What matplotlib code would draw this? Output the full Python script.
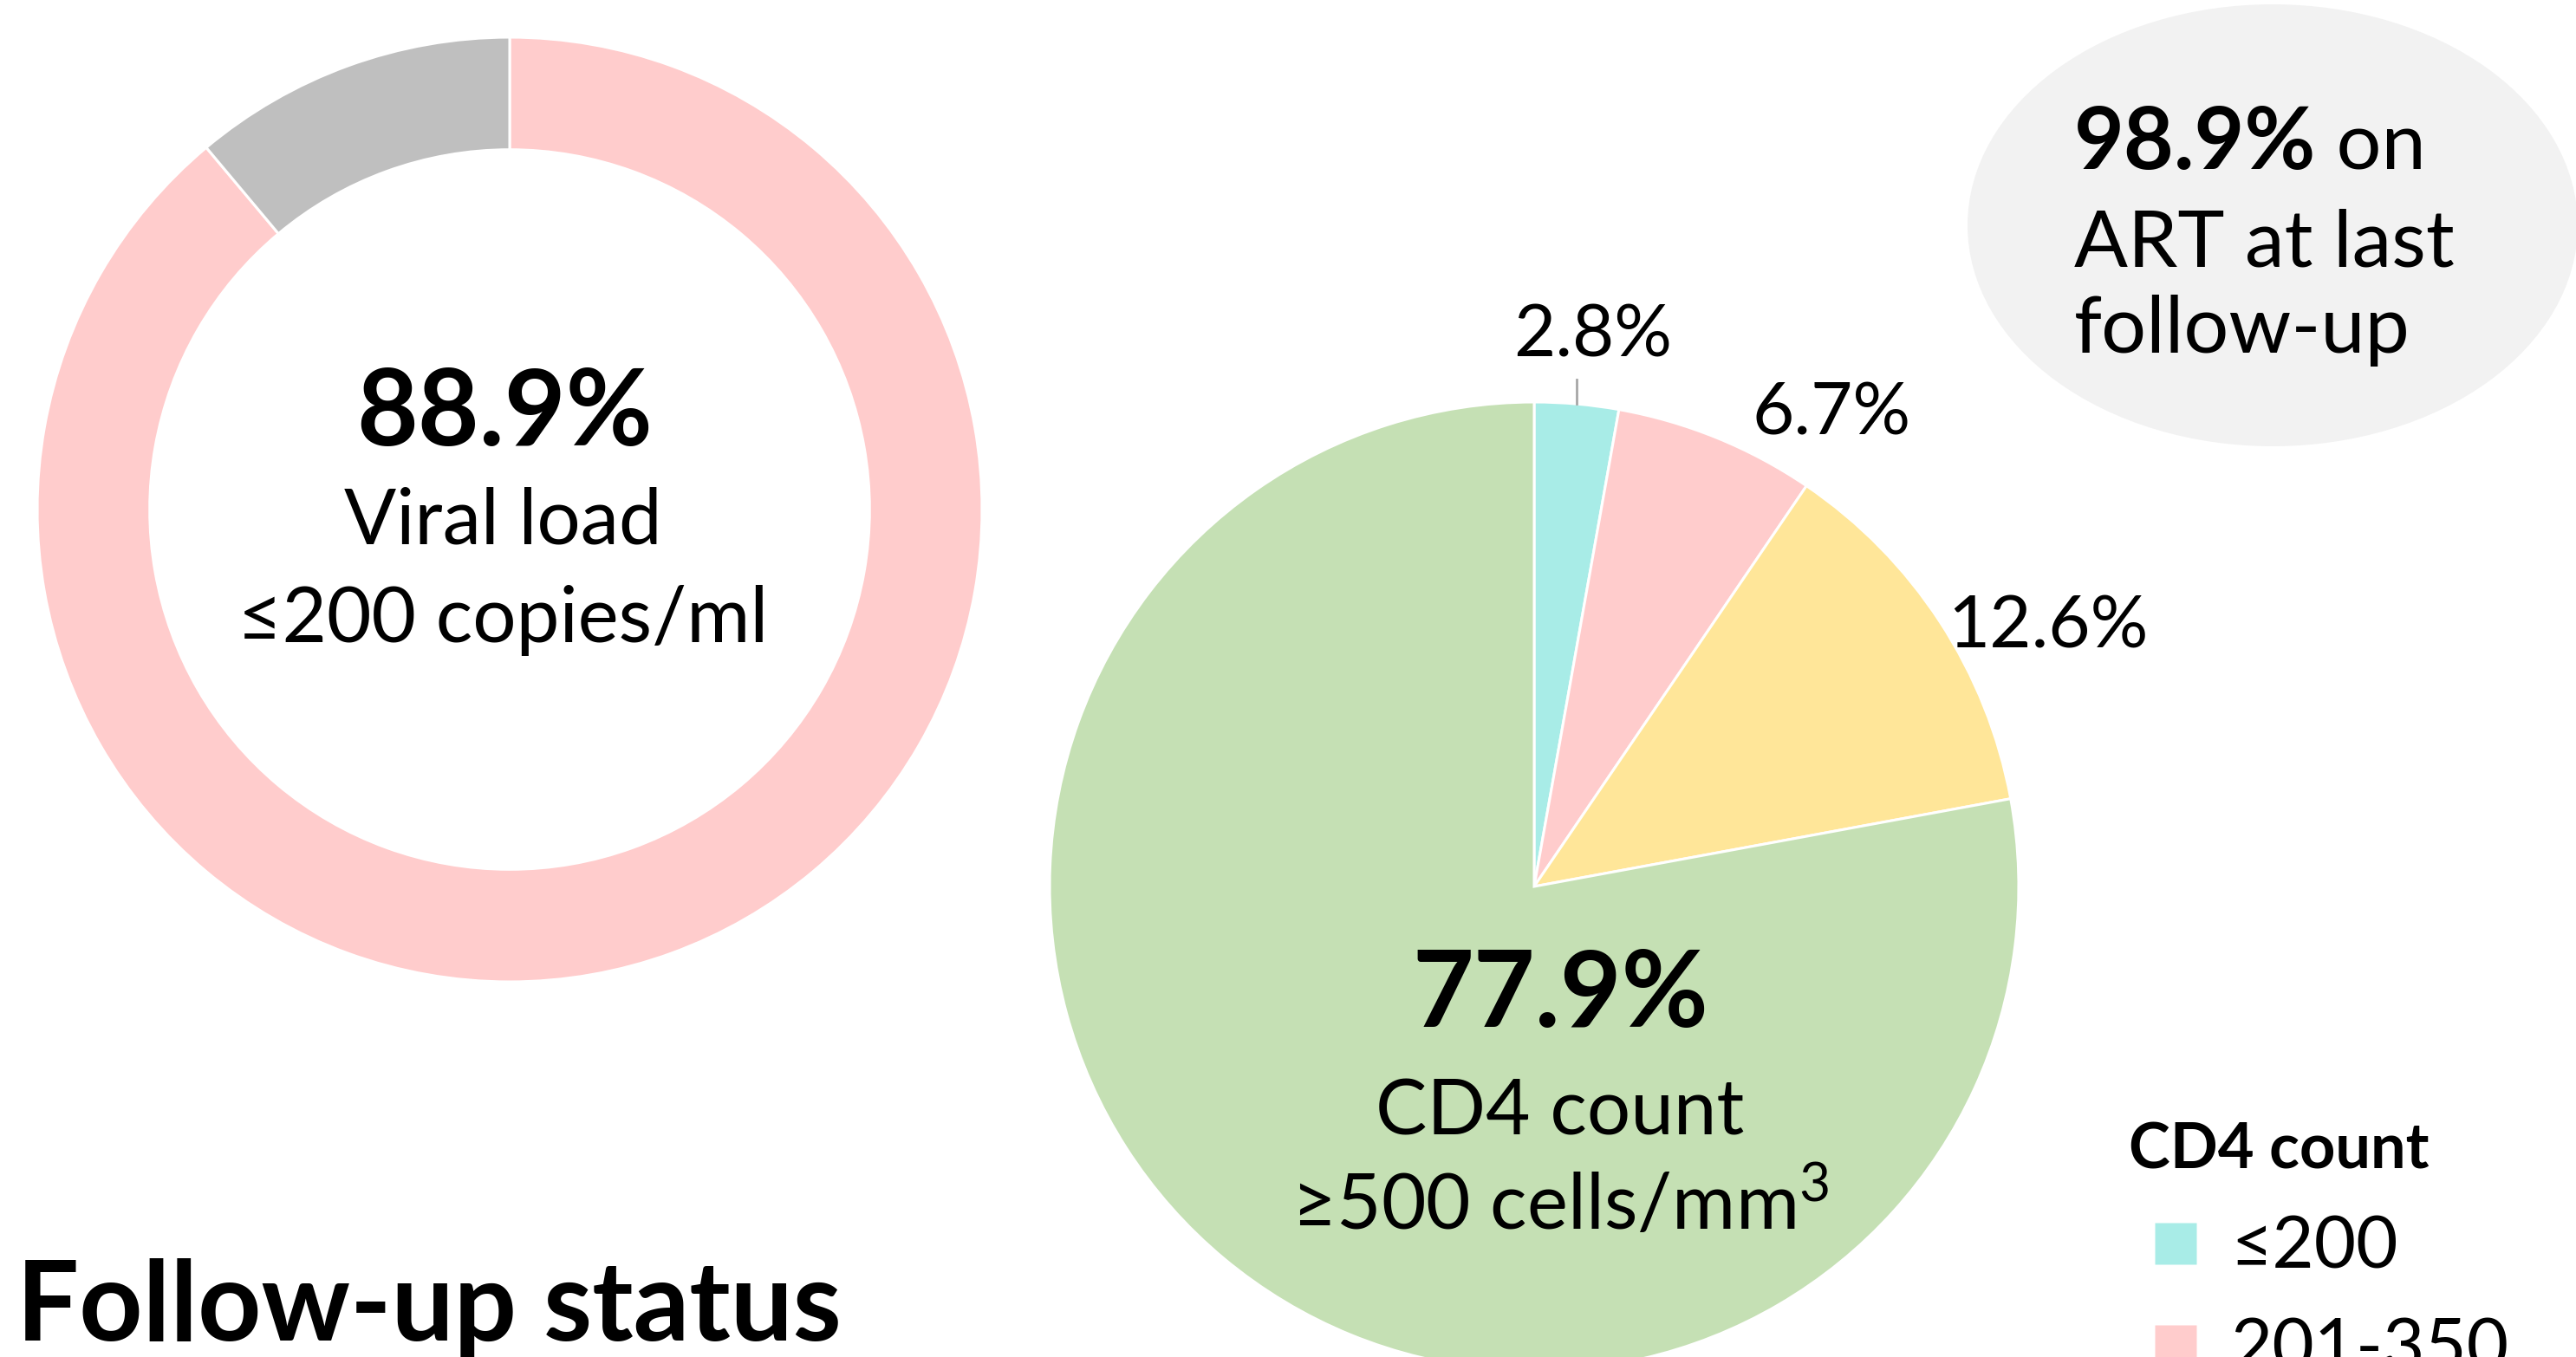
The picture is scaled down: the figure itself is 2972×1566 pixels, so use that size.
import matplotlib
matplotlib.use("Agg")
import matplotlib.pyplot as plt
from matplotlib.patches import Ellipse
from matplotlib.lines import Line2D
import numpy as np

plt.rcParams['font.family'] = ['Lato', 'DejaVu Sans']
plt.rcParams['mathtext.fontset'] = 'custom'
plt.rcParams['mathtext.rm'] = 'Lato'
plt.rcParams['mathtext.it'] = 'Lato:italic'
plt.rcParams['mathtext.bf'] = 'Lato:bold'

# ---- data ----
vl_labels = ["≤200 copies/ml", "Other"]
vl_values = [88.9, 11.1]
vl_colors = ["#FFCCCC", "#BFBFBF"]

cd4_labels = ["≤200", "201-350", "351-499", "≥500"]
cd4_values = [2.8, 6.7, 12.6, 77.9]
cd4_colors = ["#A8ECE7", "#FFCCCC", "#FFE699", "#C5E0B4"]

art_pct = 98.9

W, H = 2972, 1566
DPI = 200
fig = plt.figure(figsize=(W / DPI, H / DPI), dpi=DPI)

def frac(left, top, size):
    # pixel box (top-left origin) -> figure fraction
    return [left / W, (H - top - size) / H, size / W, size / H]

# ---- donut (viral load) ----
cx1, cy1, R1 = 588, 588, 545
ax1 = fig.add_axes(frac(cx1 - R1, cy1 - R1, 2 * R1))
ax1.pie(vl_values, colors=vl_colors, startangle=90, counterclock=False,
        radius=1.0, wedgeprops=dict(width=0.238, edgecolor="white", linewidth=1.1))
ax1.set_xlim(-1, 1); ax1.set_ylim(-1, 1)
ax1.set_aspect("equal"); ax1.axis("off")

# ---- pie (CD4 count) ----
cx2, cy2, R2 = 1770, 1023, 559
ax2 = fig.add_axes(frac(cx2 - R2, cy2 - R2, 2 * R2))
wedges, _ = ax2.pie(cd4_values, colors=cd4_colors, startangle=90, counterclock=False,
                    radius=1.0, wedgeprops=dict(edgecolor="white", linewidth=1.1))
ax2.set_xlim(-1, 1); ax2.set_ylim(-1, 1)
ax2.set_aspect("equal"); ax2.axis("off")

# leader line for smallest slice
mid = np.deg2rad(90 - cd4_values[0] * 3.6 / 2)
ax2.plot([np.cos(mid), np.cos(mid)], [np.sin(mid), np.sin(mid) + 0.05],
         color="#A6A6A6", lw=1.0, clip_on=False)

# overlay axes in pixel coordinates
ax0 = fig.add_axes([0, 0, 1, 1])
ax0.set_xlim(0, W); ax0.set_ylim(H, 0)
ax0.axis("off")
ax0.set_zorder(5)
ax0.patch.set_alpha(0)

# donut centre text
ax0.text(582, 479, f"{vl_values[0]}%", ha="center", va="center", fontsize=44, fontweight="bold")
ax0.text(580, 603, "Viral load", ha="center", va="center", fontsize=32)
ax0.text(580, 716, "≤200 copies/ml", ha="center", va="center", fontsize=32)

# pie labels
ax0.text(1838, 388, f"{cd4_values[0]}%", ha="center", va="center", fontsize=30)
ax0.text(2113, 479, f"{cd4_values[1]}%", ha="center", va="center", fontsize=30)
ax0.text(2363, 724, f"{cd4_values[2]}%", ha="center", va="center", fontsize=30)

ax0.text(1800, 1150, f"{cd4_values[3]}%", ha="center", va="center", fontsize=44, fontweight="bold")
ax0.text(1800, 1285, "CD4 count", ha="center", va="center", fontsize=32)
ax0.text(1800, 1392, "≥500 cells/mm$^{3}$", ha="center", va="center", fontsize=32)

# ellipse callout
ax0.add_patch(Ellipse((2622, 260), 704, 510, facecolor="#F2F2F2", edgecolor="none"))
t1 = ax0.text(2393, 195, f"{art_pct}%", ha="left", va="baseline", fontsize=36, fontweight="bold")
ax0.annotate(" on", xy=(1, 0), xycoords=t1, ha="left", va="bottom", fontsize=33)
ax0.text(2393, 307, "ART at last", ha="left", va="baseline", fontsize=33)
ax0.text(2393, 407, "follow-up", ha="left", va="baseline", fontsize=33)

# title
ax0.text(19, 1547, "Follow-up status", ha="left", va="baseline", fontsize=46, fontweight="bold")

# legend
handles = [Line2D([], [], marker="s", linestyle="", markersize=17,
                  markerfacecolor=c, markeredgecolor="none") for c in cd4_colors]
leg = fig.legend(handles, cd4_labels, title="CD4 count", loc="upper left",
                 bbox_to_anchor=(2398 / W, 1 - 1236 / H), frameon=False,
                 fontsize=30, title_fontproperties={"weight": "bold", "size": 26},
                 alignment="left", handlelength=1.3, handletextpad=0.1,
                 labelspacing=0.5, borderpad=0.2)

fig.savefig("out.png", dpi=DPI)
